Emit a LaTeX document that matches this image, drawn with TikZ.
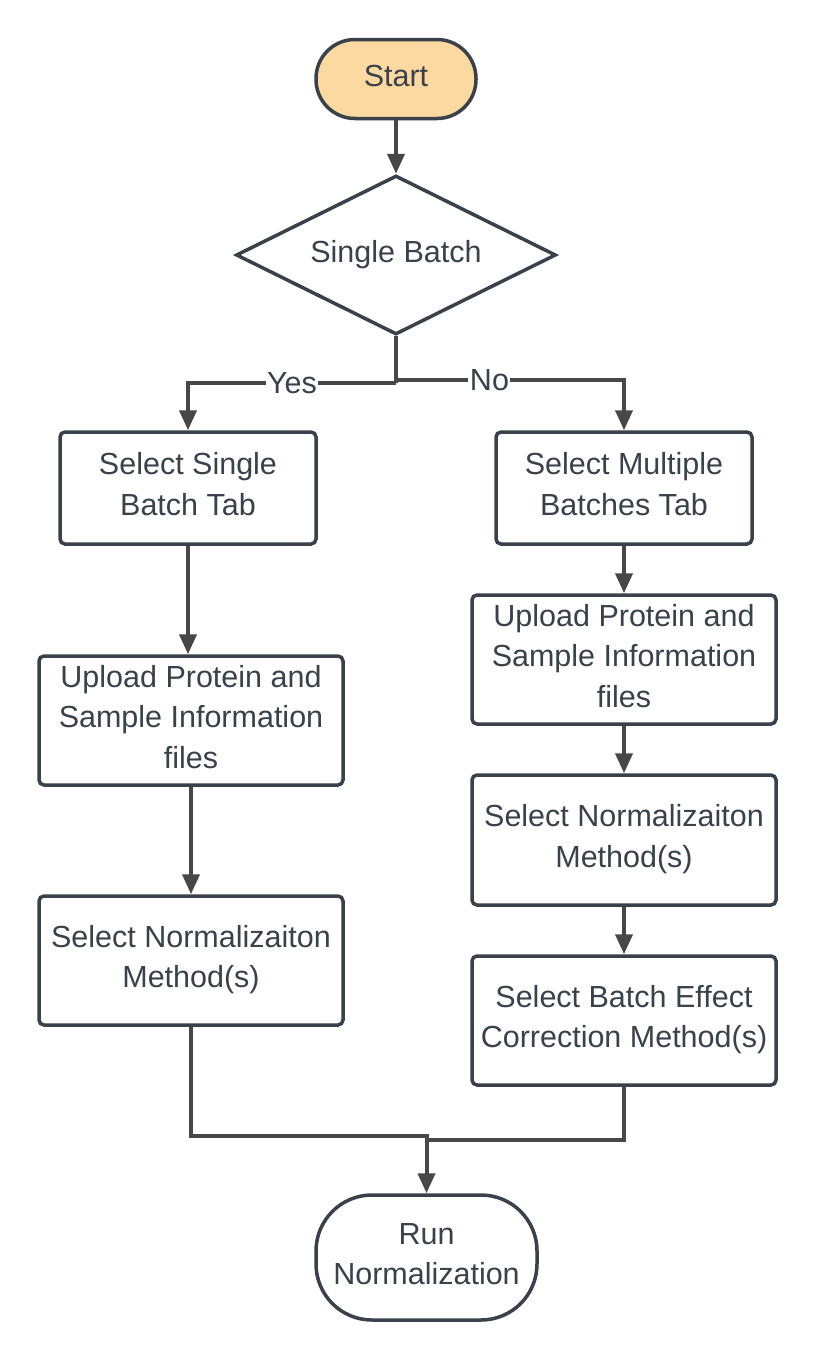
\documentclass[tikz,border=0pt]{standalone}
\usepackage{fontspec}
\setmainfont{Liberation Sans}
\usetikzlibrary{arrows.meta,shapes.geometric}
\definecolor{ink}{HTML}{3A414A}
\definecolor{wirec}{HTML}{474747}
\definecolor{peach}{HTML}{FCD9A0}
\newcommand{\boxtext}[1]{\raisebox{0pt}[\height][\dimexpr\depth+2pt\relax]{\begin{tabular}{@{}c@{}}#1\end{tabular}}}
\begin{document}
\begin{tikzpicture}[x=1pt,y=-1pt,
  every node/.style={font=\fontsize{30.5}{40.5}\selectfont, text=ink},
  box/.style={draw=ink, line width=3.5pt, rounded corners=5pt, fill=white, align=center, inner sep=0pt},
  decbox/.style={draw=ink, line width=3.5pt, diamond, aspect=2, fill=white, inner sep=0pt},
  conn/.style={draw=wirec, line width=4pt},
  arr/.style={conn, -{Triangle[length=20pt,width=17pt]}},
  lbl/.style={fill=white, inner sep=1.5pt}
]
\useasboundingbox[fill=white] (0,0) rectangle (816,1360);

% nodes
\node[box, fill=peach, rounded corners=39pt, minimum width=160pt, minimum height=79pt] (start) at (396,79) {\boxtext{Start}};
\node[decbox, minimum width=320pt, minimum height=159pt] (dec) at (396,255) {\boxtext{Single Batch}};

\node[box, minimum width=256pt, minimum height=112pt] (lb1) at (188,488) {\boxtext{Select Single\\Batch Tab}};
\node[box, minimum width=304pt, minimum height=129pt] (lb2) at (191,720.5) {\boxtext{Upload Protein and\\Sample Information\\files}};
\node[box, minimum width=304pt, minimum height=129pt] (lb3) at (191,960.5) {\boxtext{Select Normalizaiton\\Method(s)}};

\node[box, minimum width=256pt, minimum height=112pt] (rb1) at (624,488) {\boxtext{Select Multiple\\Batches Tab}};
\node[box, minimum width=304pt, minimum height=129pt] (rb2) at (624,659.5) {\boxtext{Upload Protein and\\Sample Information\\files}};
\node[box, minimum width=304pt, minimum height=130pt] (rb3) at (624,840) {\boxtext{Select Normalizaiton\\Method(s)}};
\node[box, minimum width=304pt, minimum height=129pt] (rb4) at (624,1020.5) {\boxtext{Select Batch Effect\\Correction Method(s)}};

\node[box, rounded corners=56pt, minimum width=221pt, minimum height=125pt] (run) at (426.5,1257.5) {\boxtext{Run\\Normalization}};

% helper coordinates
\coordinate (sy) at (396,383);
\coordinate (sn) at (396,380);
\coordinate (jl) at (426.5,1136);
\coordinate (jr) at (426.5,1140);

% connectors
\draw[arr] (start) -- (dec);
\draw[conn] (dec.south) -- (sy);
\draw[arr] (sy) -| node[lbl, pos=0.25] {Yes} (lb1.north);
\draw[arr] (sn) -| node[lbl, pos=0.205] {No} (rb1.north);

\draw[arr] (lb1.south) -- (lb1.south |- lb2.north);
\draw[arr] (lb2.south) -- (lb3.north);

\draw[arr] (rb1.south) -- (rb2.north);
\draw[arr] (rb2.south) -- (rb3.north);
\draw[arr] (rb3.south) -- (rb4.north);

\draw[arr] (lb3.south) |- (jl) -- (run.north);
\draw[conn] (rb4.south) |- (jr);
\end{tikzpicture}
\end{document}
